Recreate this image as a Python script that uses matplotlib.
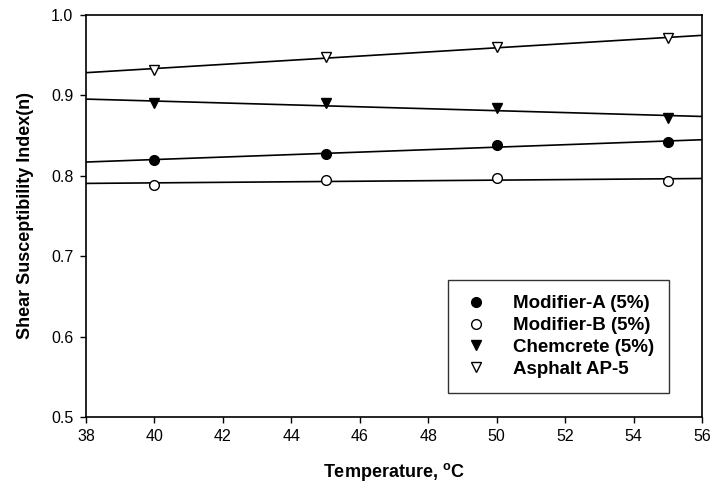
import numpy as np
import matplotlib
matplotlib.use('Agg')
import matplotlib.pyplot as plt

plt.rcParams['font.family'] = ['Liberation Sans', 'DejaVu Sans']

# temperaturas (C) y valores del indice n
temperatura = [40, 45, 50, 55]
modificador_a = [0.820, 0.827, 0.838, 0.842]
modificador_b = [0.789, 0.795, 0.797, 0.794]
chemcrete = [0.890, 0.890, 0.884, 0.872]
asfalto = [0.932, 0.948, 0.960, 0.971]

series = [
    ('Modifier-A (5%)', modificador_a, 'o', 'black'),
    ('Modifier-B (5%)', modificador_b, 'o', 'white'),
    ('Chemcrete (5%)', chemcrete, 'v', 'black'),
    ('Asphalt AP-5', asfalto, 'v', 'white'),
]

fig = plt.figure(figsize=(7.13, 4.9), dpi=100)
ax = fig.add_axes([0.1206, 0.149, 0.864, 0.8204])

x_linea = np.array([38, 56])
for nombre, valores, marcador, relleno in series:
    # recta de regresion de cada serie
    m, b = np.polyfit(temperatura, valores, 1)
    ax.plot(x_linea, m * x_linea + b, color='black', lw=1.2, zorder=2)
    ax.plot(temperatura, valores, linestyle='none', marker=marcador,
            markersize=7 if marcador == 'o' else 7.5, markerfacecolor=relleno,
            markeredgecolor='black', markeredgewidth=1.0, label=nombre, zorder=3)

ax.set_xlim(38, 56)
ax.set_ylim(0.5, 1.0)
ax.set_xticks(np.arange(38, 57, 2))
ax.set_yticks(np.arange(0.5, 1.01, 0.1))
ax.yaxis.set_major_formatter(matplotlib.ticker.FormatStrFormatter('%.1f'))
ax.tick_params(direction='out', length=4, width=1, labelsize=11.5, pad=5)
for s in ax.spines.values():
    s.set_linewidth(1.2)

ax.set_xlabel('Temperature, $^{\\mathregular{o}}$C', fontsize=13, fontweight='bold', labelpad=12)
ax.set_ylabel('Shear Susceptibility Index(n)', fontsize=13, fontweight='bold', labelpad=12)

leg = ax.legend(loc='lower right', bbox_to_anchor=(0.947, 0.06), frameon=True,
                fancybox=False, edgecolor='black',
                prop={'weight': 'bold', 'size': 13.5}, handlelength=1.4,
                handletextpad=1.3, borderpad=0.8, labelspacing=0.25,
                borderaxespad=0)
leg.get_frame().set_linewidth(1.0)

fig.savefig('out.png', dpi=100)
